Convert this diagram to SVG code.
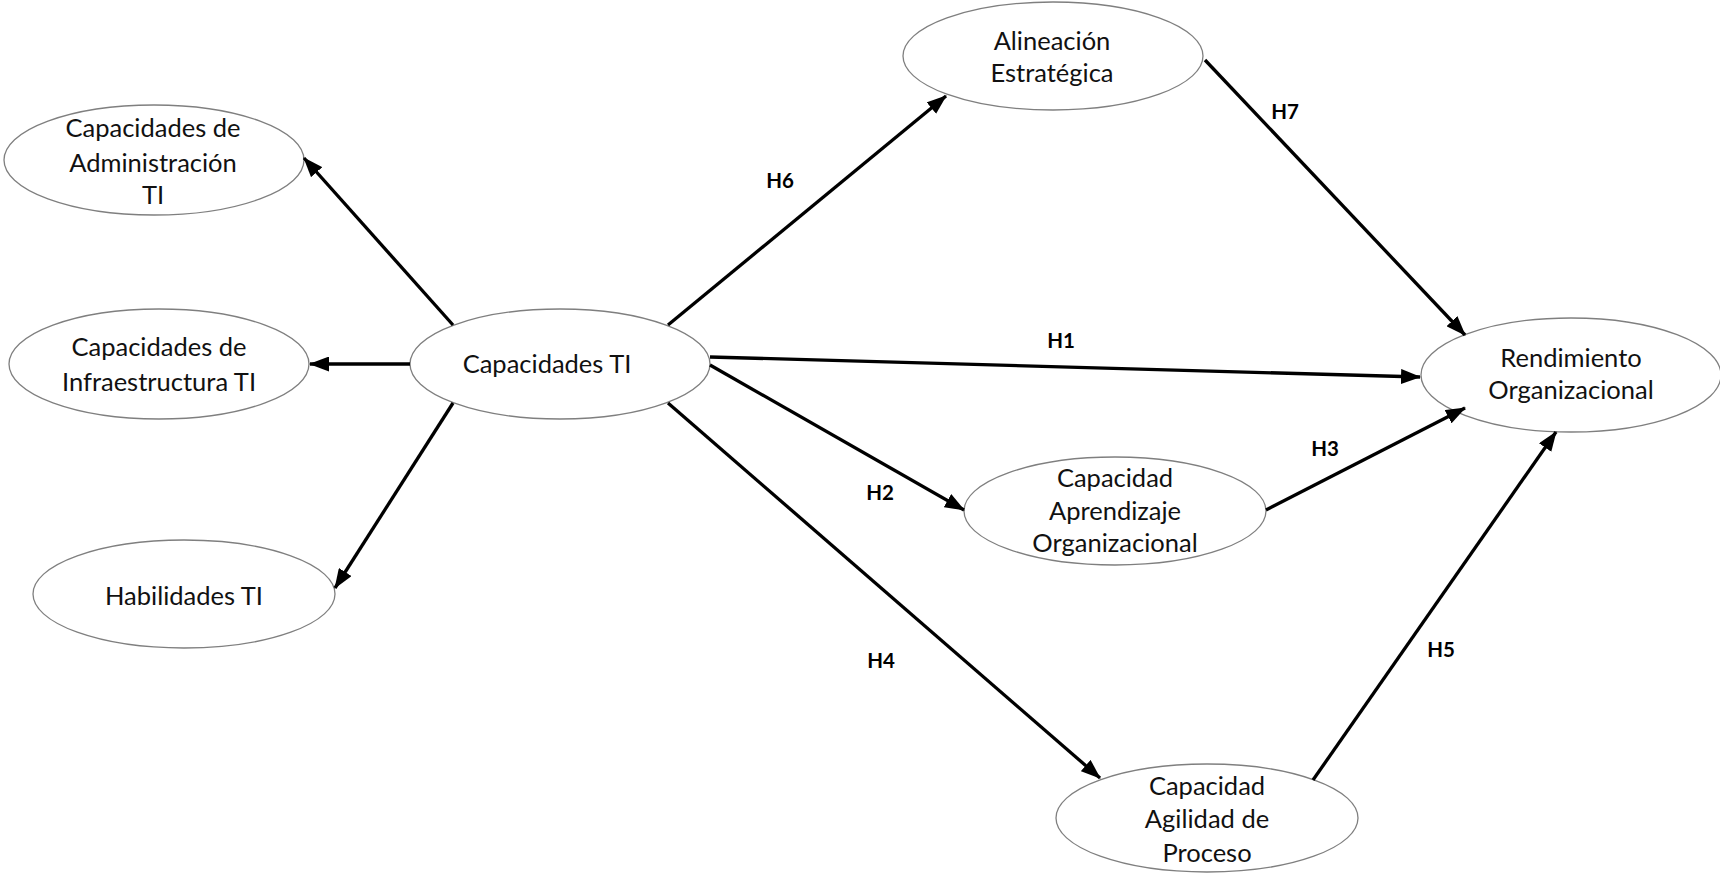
<svg xmlns="http://www.w3.org/2000/svg" width="1720" height="874" viewBox="0 0 1720 874">
<style>
.n ellipse{fill:#fff;stroke:#7f7f7f;stroke-width:1.3}
.n text{font-family:Lato,"Open Sans","Liberation Sans",sans-serif;font-size:25.5px;fill:#111;text-anchor:middle}
.c line{stroke:#000;stroke-width:3.3;marker-end:url(#ah)}
.lbl{font-family:Lato,"Open Sans","Liberation Sans",sans-serif;font-size:20.5px;font-weight:bold;fill:#000;text-anchor:middle}
</style>
<defs>
<marker id="ah" markerUnits="userSpaceOnUse" viewBox="0 0 20 15" refX="19" refY="7.5" markerWidth="20" markerHeight="15" orient="auto">
<path d="M0,0 L20,7.5 L0,15 Z" fill="#000"/>
</marker>
</defs>
<rect width="1720" height="874" fill="#fff"/>
<g id="n-admin" class="n"><ellipse cx="154" cy="160" rx="150" ry="55"/><text x="153" y="137">Capacidades de</text><text x="153" y="172">Administración</text><text x="153" y="204">TI</text></g>
<g id="n-infra" class="n"><ellipse cx="159" cy="364" rx="150" ry="55"/><text x="159" y="356">Capacidades de</text><text x="159" y="391">Infraestructura TI</text></g>
<g id="n-habil" class="n"><ellipse cx="184" cy="594" rx="151" ry="54"/><text x="184" y="605">Habilidades TI</text></g>
<g id="n-capti" class="n"><ellipse cx="560" cy="364" rx="150" ry="55"/><text x="547" y="373">Capacidades TI</text></g>
<g id="n-alin" class="n"><ellipse cx="1053" cy="56" rx="150" ry="54"/><text x="1052" y="50">Alineación</text><text x="1052" y="82">Estratégica</text></g>
<g id="n-rend" class="n"><ellipse cx="1571" cy="375" rx="150" ry="57"/><text x="1571" y="367">Rendimiento</text><text x="1571" y="399">Organizacional</text></g>
<g id="n-apren" class="n"><ellipse cx="1115" cy="511" rx="151" ry="54"/><text x="1115" y="487">Capacidad</text><text x="1115" y="520">Aprendizaje</text><text x="1115" y="552">Organizacional</text></g>
<g id="n-agil" class="n"><ellipse cx="1207" cy="818" rx="151" ry="54"/><text x="1207" y="795">Capacidad</text><text x="1207" y="828">Agilidad de</text><text x="1207" y="862">Proceso</text></g>
<g id="connectors" class="c">
<line x1="453" y1="325" x2="304" y2="158"/>
<line x1="410" y1="364" x2="310" y2="364"/>
<line x1="453" y1="403" x2="335" y2="588"/>
<line x1="668" y1="325" x2="946" y2="96"/>
<line x1="710" y1="357" x2="1420" y2="377"/>
<line x1="710" y1="365" x2="964" y2="510"/>
<line x1="668" y1="403" x2="1100" y2="778"/>
<line x1="1205" y1="60" x2="1465" y2="335"/>
<line x1="1266" y1="510" x2="1465" y2="408"/>
<line x1="1313" y1="780" x2="1556" y2="432"/>
</g>
<g id="labels">
<text class="lbl" x="780" y="188">H6</text>
<text class="lbl" x="1061" y="348">H1</text>
<text class="lbl" x="1285" y="119">H7</text>
<text class="lbl" x="880" y="500">H2</text>
<text class="lbl" x="1325" y="456">H3</text>
<text class="lbl" x="881" y="668">H4</text>
<text class="lbl" x="1441" y="657">H5</text>
</g>
</svg>
